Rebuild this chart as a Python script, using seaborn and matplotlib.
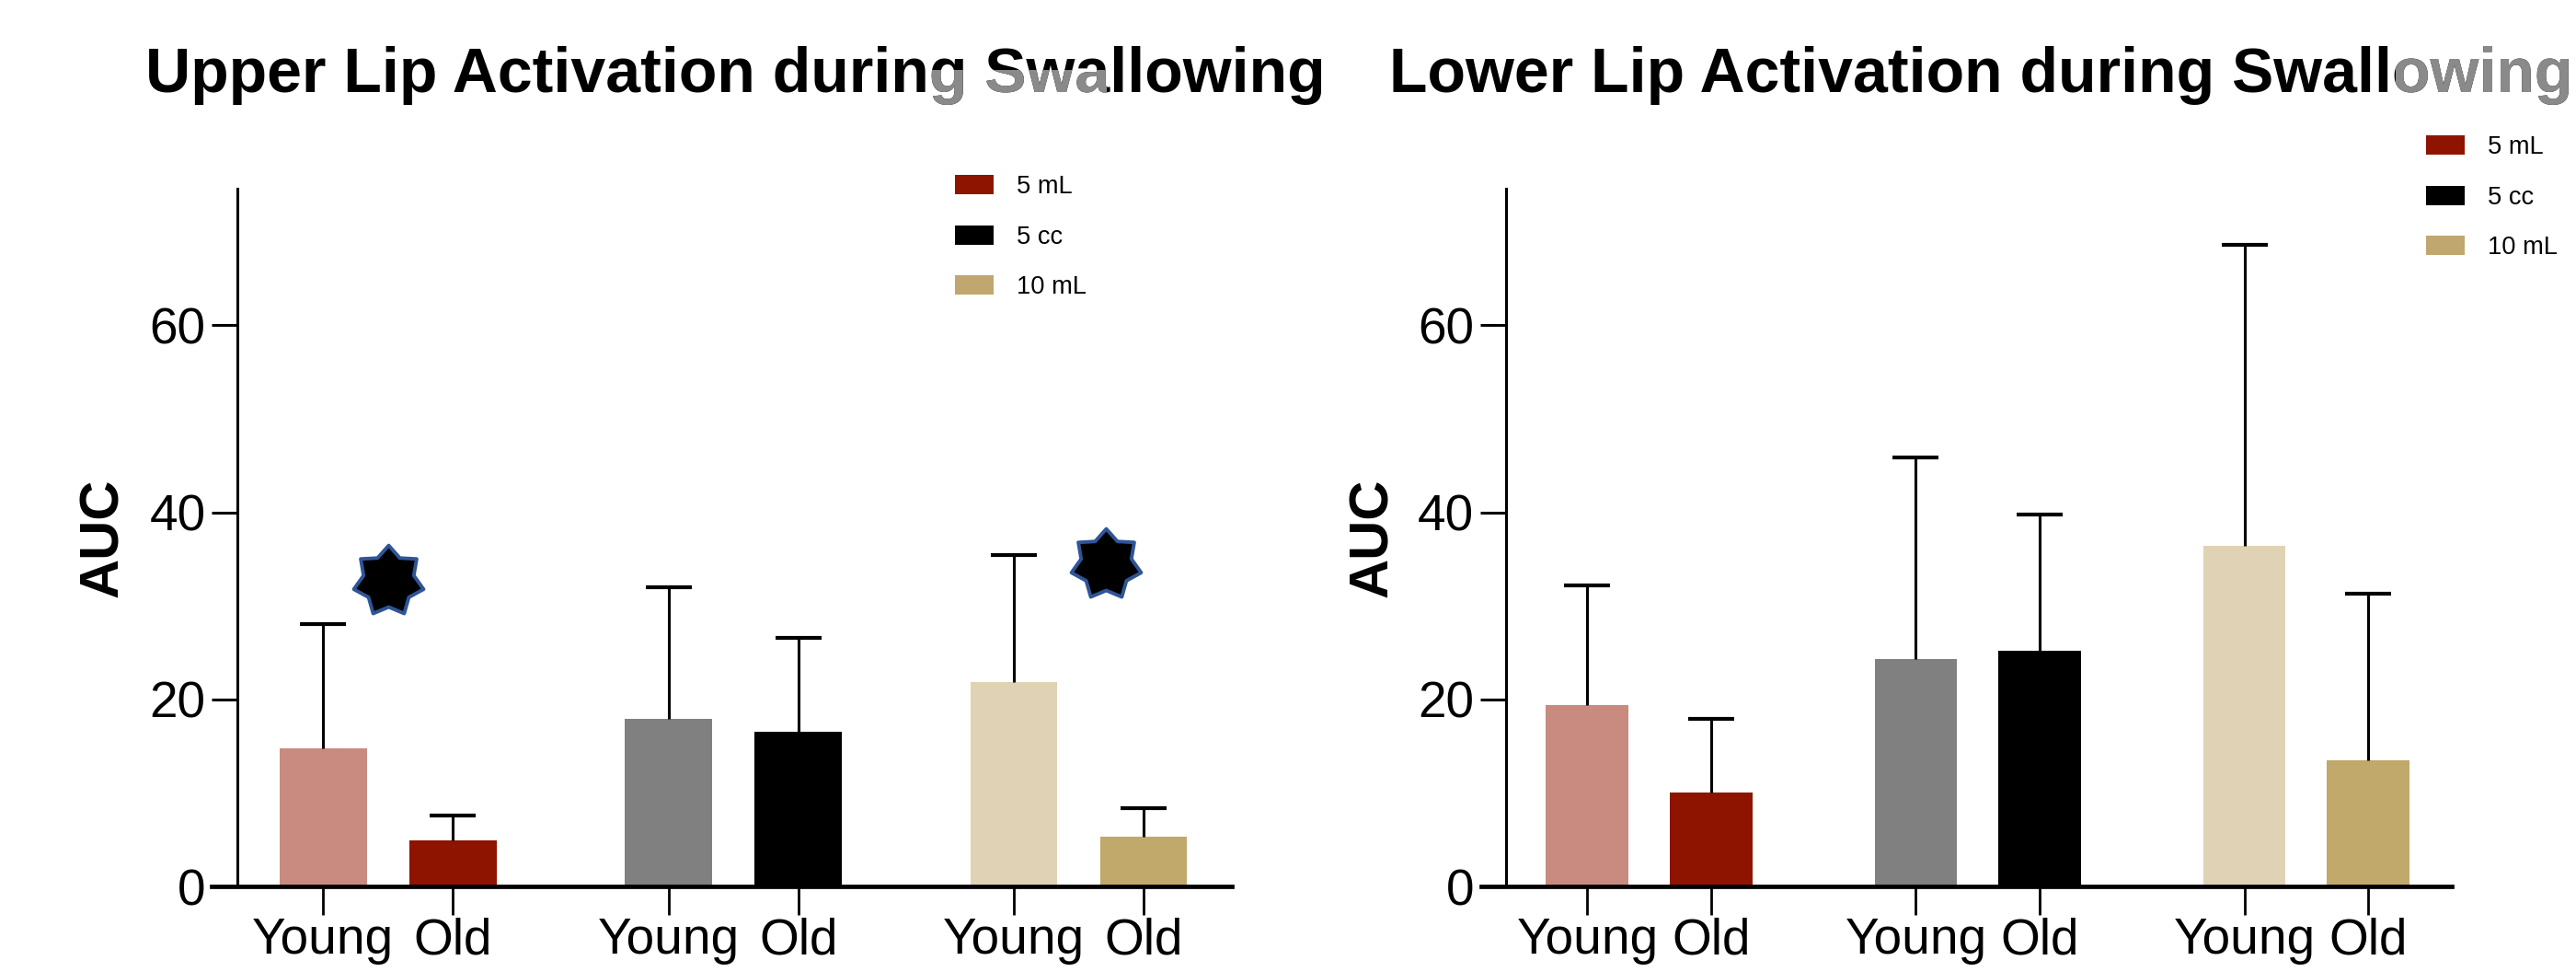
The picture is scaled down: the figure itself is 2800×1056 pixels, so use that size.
import matplotlib
matplotlib.use("Agg")
import matplotlib.pyplot as plt
import matplotlib.font_manager as fm
from matplotlib.patches import Patch, Rectangle
from matplotlib.path import Path
import numpy as np
import pandas as pd
import seaborn as sns

# data
groups = ["Young 5 mL", "Old 5 mL", "Young 5 cc", "Old 5 cc", "Young 10 mL", "Old 10 mL"]
tick_labels = ["Young", "Old", "Young", "Old", "Young", "Old"]
positions = [0, 1, 2.66, 3.66, 5.32, 6.32]
bar_colors = ["#C98A80", "#8F1400", "#808080", "#000000", "#E0D3B5", "#C1A86B"]

upper_mean = [14.8, 4.9, 17.9, 16.5, 21.8, 5.3]
upper_top = [28.0, 7.6, 32.0, 26.6, 35.4, 8.4]
lower_mean = [19.4, 10.0, 24.3, 25.2, 36.4, 13.5]
lower_top = [32.2, 17.9, 45.9, 39.8, 68.6, 31.3]

star_x = [0.50, 6.03]
star_y = [32.7, 34.4]

legend_labels = ["5 mL", "5 cc", "10 mL"]
legend_colors = ["#8F1400", "#000000", "#BFA76F"]

sns.set_style("white")
installed = {f.name for f in fm.fontManager.ttflist}
narrow = "Liberation Sans Narrow" if "Liberation Sans Narrow" in installed else "Liberation Sans"
plt.rcParams["font.family"] = [narrow, "DejaVu Sans"]
plt.rcParams["text.color"] = "black"
plt.rcParams["axes.labelcolor"] = "black"
plt.rcParams["xtick.color"] = "black"
plt.rcParams["ytick.color"] = "black"
tick_size = 21.5 if narrow == "Liberation Sans Narrow" else 19.8

# 7 pointed star marker
ang = np.pi / 2 + np.arange(14) * np.pi / 7
rad = np.where(np.arange(14) % 2 == 0, 1.0, 0.72)
star = Path(np.column_stack([rad * np.cos(ang), rad * np.sin(ang)]).tolist() + [[0, 1]],
            [Path.MOVETO] + [Path.LINETO] * 13 + [Path.CLOSEPOLY])

W, H = 2800, 1056
fig = plt.figure(figsize=(14, 5.28), dpi=200)

panels = [
    ("Upper Lip Activation during Swallowing", upper_mean, upper_top,
     230, 1109, 799, (1013, 76, 190, 80), (1038, 190), True),
    ("Lower Lip Activation during Swallowing", lower_mean, lower_top,
     1610, 1055, 2153, (2604, 0, 196, 140), (2637, 147), False),
]

for title, means, tops, left_px, width_px, title_x, gray_box, leg_xy, stars in panels:
    ax = fig.add_axes([left_px / W, 1 - 963 / H, width_px / W, (963 - 205) / H])
    df = pd.DataFrame({"pos": positions, "mean": means, "group": groups})
    sns.barplot(data=df, x="pos", y="mean", hue="group", hue_order=groups,
                palette=bar_colors, saturation=1, native_scale=True, dodge=False, width=0.67,
                errorbar=None, legend=False, linewidth=0, ax=ax)
    sd = np.array(tops) - np.array(means)
    _, caps, _ = ax.errorbar(positions, means, yerr=[np.zeros(len(sd)), sd], fmt="none",
                             ecolor="black", elinewidth=1.1, capsize=9, capthick=1.5, zorder=5)
    # one sided bars: drop the cap sitting on the bar top
    for c in caps:
        if np.allclose(c.get_ydata(), means):
            c.set_visible(False)
    if stars:
        ax.plot(star_x, star_y, ls="none", marker=star, ms=28,
                mfc="black", mec="#2F5597", mew=1.4, zorder=6)

    ax.set_xlim(-0.86, 7.0)
    ax.set_ylim(0, 74.6)
    ax.set_xticks(positions)
    ax.set_xticklabels(tick_labels)
    ax.set_yticks([0, 20, 40, 60])
    ax.tick_params(axis="x", length=11, width=1.0, pad=1, labelsize=tick_size, direction="out", bottom=True)
    ax.tick_params(axis="y", length=10, width=1.1, pad=2.5, labelsize=tick_size, direction="out", left=True)
    ax.spines["top"].set_visible(False)
    ax.spines["right"].set_visible(False)
    ax.spines["left"].set_position(("data", -0.66))
    ax.spines["left"].set_linewidth(1.1)
    ax.spines["bottom"].set_linewidth(1.7)
    ax.spines["left"].set_color("black")
    ax.spines["bottom"].set_color("black")
    ax.set_xlabel("")
    ax.set_ylabel("AUC", fontsize=21.5, fontweight="bold", family=["Liberation Sans", "DejaVu Sans"])
    ax.yaxis.set_label_coords(-90 / width_px, 0.5)

    # title, with the greyed-out patch seen in the reference
    fig.text(title_x / W, 1 - 100 / H, title, ha="center", va="baseline", color="black",
             fontsize=24.5, fontweight="bold", family=["Liberation Sans", "DejaVu Sans"])
    gt = fig.text(title_x / W, 1 - 100 / H, title, ha="center", va="baseline",
                  fontsize=24.5, fontweight="bold", color="#8A8A8A",
                  family=["Liberation Sans", "DejaVu Sans"])
    gx, gy, gw, gh = gray_box
    clip = Rectangle((gx / W, 1 - (gy + gh) / H), gw / W, gh / H, transform=fig.transFigure)
    gt.set_clip_path(clip)
    gt.set_clip_on(True)

    handles = [Patch(facecolor=c, edgecolor="none") for c in legend_colors]
    fig.legend(handles, legend_labels, loc="upper left",
               bbox_to_anchor=(leg_xy[0] / W, 1 - leg_xy[1] / H),
               frameon=False, borderpad=0, borderaxespad=0,
               handlelength=1.55, handleheight=0.8, handletextpad=0.9,
               labelspacing=1.05, prop={"family": ["Liberation Sans", "DejaVu Sans"], "size": 9.8})

fig.savefig("out.png", dpi=200)
